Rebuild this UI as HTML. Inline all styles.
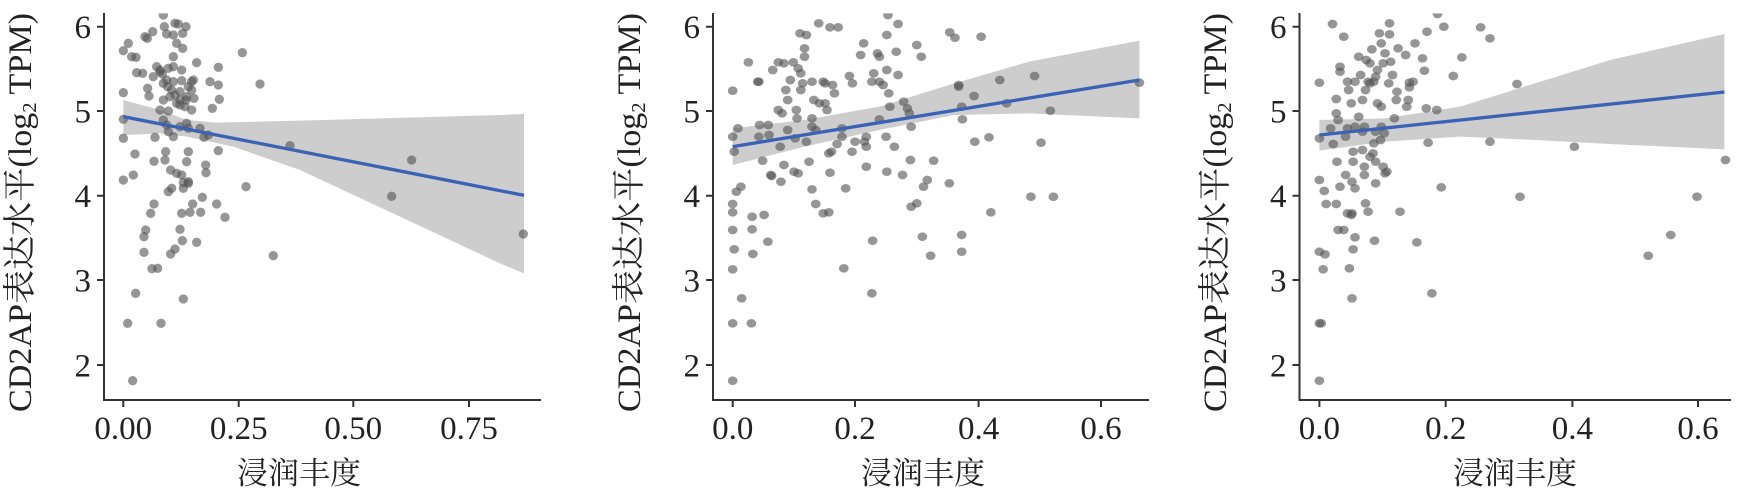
<!DOCTYPE html>
<html><head><meta charset="utf-8"><style>
html,body{margin:0;padding:0;background:#fff;}
svg{display:block;}
text{font-family:"Liberation Serif","Noto Serif CJK SC",serif;fill:#222;}
.pt{fill:#555;fill-opacity:0.62;}
.ax{stroke:#333;stroke-width:2;fill:none;}
.tk{font-size:33px;}
.yt{font-size:33px;}
.xt{font-size:31px;}
</style></head><body>
<svg width="1742" height="491" viewBox="0 0 1742 491" xmlns="http://www.w3.org/2000/svg">
<defs>
<clipPath id="c1"><rect x="312" y="40" width="1320" height="1155"/></clipPath>
<clipPath id="c2"><rect x="355" y="40" width="1170" height="1155"/></clipPath>
<clipPath id="c3"><rect x="372" y="40" width="1155" height="1155"/></clipPath>
</defs>

<!-- Panel 1 plot -->
<g transform="scale(0.33333)">
<g clip-path="url(#c1)">
<polygon fill="#c4c4c6" fill-opacity="0.85" points="370,300 480,330 560,360 650,368 900,362 1500,345 1572,342 1572,820 1500,790 1200,650 900,510 700,440 560,410 480,400 370,405"/>
<g class="pt">
<circle cx="490" cy="45" r="14"/><circle cx="493" cy="80" r="14"/><circle cx="525" cy="70" r="14"/><circle cx="535" cy="72" r="14"/><circle cx="558" cy="80" r="14"/><circle cx="548" cy="100" r="14"/><circle cx="500" cy="102" r="14"/><circle cx="520" cy="105" r="14"/><circle cx="530" cy="130" r="14"/><circle cx="548" cy="145" r="14"/><circle cx="458" cy="95" r="14"/><circle cx="435" cy="110" r="14"/><circle cx="442" cy="115" r="14"/><circle cx="385" cy="130" r="14"/><circle cx="370" cy="152" r="14"/><circle cx="395" cy="170" r="14"/><circle cx="408" cy="172" r="14"/><circle cx="520" cy="170" r="14"/><circle cx="590" cy="188" r="14"/><circle cx="655" cy="202" r="14"/><circle cx="727" cy="158" r="14"/><circle cx="780" cy="252" r="14"/><circle cx="410" cy="218" r="14"/><circle cx="428" cy="220" r="14"/><circle cx="460" cy="230" r="14"/><circle cx="480" cy="215" r="14"/><circle cx="487" cy="222" r="14"/><circle cx="500" cy="240" r="14"/><circle cx="520" cy="245" r="14"/><circle cx="545" cy="242" r="14"/><circle cx="575" cy="245" r="14"/><circle cx="580" cy="240" r="14"/><circle cx="630" cy="245" r="14"/><circle cx="655" cy="255" r="14"/><circle cx="370" cy="278" r="14"/><circle cx="443" cy="265" r="14"/><circle cx="447" cy="288" r="14"/><circle cx="490" cy="250" r="14"/><circle cx="503" cy="260" r="14"/><circle cx="515" cy="270" r="14"/><circle cx="540" cy="275" r="14"/><circle cx="560" cy="290" r="14"/><circle cx="582" cy="295" r="14"/><circle cx="637" cy="325" r="14"/><circle cx="658" cy="298" r="14"/><circle cx="480" cy="330" r="14"/><circle cx="505" cy="333" r="14"/><circle cx="530" cy="310" r="14"/><circle cx="540" cy="315" r="14"/><circle cx="555" cy="320" r="14"/><circle cx="575" cy="330" r="14"/><circle cx="370" cy="358" r="14"/><circle cx="370" cy="415" r="14"/><circle cx="465" cy="412" r="14"/><circle cx="490" cy="360" r="14"/><circle cx="500" cy="375" r="14"/><circle cx="505" cy="395" r="14"/><circle cx="520" cy="410" r="14"/><circle cx="540" cy="380" r="14"/><circle cx="560" cy="370" r="14"/><circle cx="565" cy="385" r="14"/><circle cx="600" cy="385" r="14"/><circle cx="612" cy="412" r="14"/><circle cx="625" cy="405" r="14"/><circle cx="655" cy="452" r="14"/><circle cx="870" cy="437" r="14"/><circle cx="1235" cy="480" r="14"/><circle cx="405" cy="462" r="14"/><circle cx="462" cy="484" r="14"/><circle cx="495" cy="480" r="14"/><circle cx="497" cy="455" r="14"/><circle cx="512" cy="510" r="14"/><circle cx="530" cy="520" r="14"/><circle cx="545" cy="525" r="14"/><circle cx="550" cy="548" r="14"/><circle cx="565" cy="545" r="14"/><circle cx="560" cy="485" r="14"/><circle cx="565" cy="455" r="14"/><circle cx="617" cy="495" r="14"/><circle cx="618" cy="518" r="14"/><circle cx="370" cy="540" r="14"/><circle cx="400" cy="525" r="14"/><circle cx="505" cy="575" r="14"/><circle cx="515" cy="565" r="14"/><circle cx="550" cy="565" r="14"/><circle cx="565" cy="550" r="14"/><circle cx="738" cy="560" r="14"/><circle cx="462" cy="612" r="14"/><circle cx="452" cy="640" r="14"/><circle cx="545" cy="640" r="14"/><circle cx="578" cy="612" r="14"/><circle cx="607" cy="592" r="14"/><circle cx="602" cy="637" r="14"/><circle cx="650" cy="612" r="14"/><circle cx="675" cy="652" r="14"/><circle cx="570" cy="637" r="14"/><circle cx="1175" cy="589" r="14"/><circle cx="437" cy="690" r="14"/><circle cx="432" cy="710" r="14"/><circle cx="540" cy="688" r="14"/><circle cx="547" cy="722" r="14"/><circle cx="590" cy="727" r="14"/><circle cx="432" cy="757" r="14"/><circle cx="512" cy="762" r="14"/><circle cx="525" cy="747" r="14"/><circle cx="456" cy="806" r="14"/><circle cx="473" cy="805" r="14"/><circle cx="820" cy="767" r="14"/><circle cx="407" cy="880" r="14"/><circle cx="550" cy="897" r="14"/><circle cx="383" cy="970" r="14"/><circle cx="483" cy="970" r="14"/><circle cx="398" cy="1142" r="14"/><circle cx="490" cy="300" r="14"/><circle cx="510" cy="290" r="14"/><circle cx="525" cy="285" r="14"/><circle cx="540" cy="300" r="14"/><circle cx="558" cy="300" r="14"/><circle cx="505" cy="205" r="14"/><circle cx="470" cy="200" r="14"/><circle cx="480" cy="210" r="14"/><circle cx="545" cy="210" r="14"/><circle cx="520" cy="200" r="14"/><circle cx="565" cy="260" r="14"/><circle cx="575" cy="270" r="14"/><circle cx="1570" cy="702" r="14"/>
</g>
<line x1="370" y1="350" x2="1572" y2="586" stroke="#3a63b5" stroke-width="10"/>
</g>
</g>

<!-- Panel 2 plot -->
<g transform="translate(580,0) scale(0.3742,0.33333)">
<g clip-path="url(#c2)">
<polygon fill="#c4c4c6" fill-opacity="0.85" points="408,385 600,360 800,320 1000,250 1200,185 1495,122 1495,355 1200,340 1000,345 800,390 600,440 408,495"/>
<g class="pt">
<circle cx="408" cy="272" r="13"/><circle cx="408" cy="410" r="13"/><circle cx="412" cy="455" r="13"/><circle cx="422" cy="385" r="13"/><circle cx="408" cy="612" r="13"/><circle cx="408" cy="637" r="13"/><circle cx="408" cy="690" r="13"/><circle cx="412" cy="748" r="13"/><circle cx="408" cy="808" r="13"/><circle cx="432" cy="895" r="13"/><circle cx="408" cy="970" r="13"/><circle cx="408" cy="1142" r="13"/><circle cx="418" cy="575" r="13"/><circle cx="430" cy="560" r="13"/><circle cx="460" cy="650" r="13"/><circle cx="460" cy="688" r="13"/><circle cx="462" cy="762" r="13"/><circle cx="458" cy="970" r="13"/><circle cx="492" cy="645" r="13"/><circle cx="502" cy="725" r="13"/><circle cx="488" cy="482" r="13"/><circle cx="480" cy="375" r="13"/><circle cx="478" cy="410" r="13"/><circle cx="503" cy="375" r="13"/><circle cx="505" cy="405" r="13"/><circle cx="475" cy="245" r="13"/><circle cx="478" cy="245" r="13"/><circle cx="450" cy="187" r="13"/><circle cx="515" cy="210" r="13"/><circle cx="530" cy="187" r="13"/><circle cx="545" cy="190" r="13"/><circle cx="510" cy="525" r="13"/><circle cx="512" cy="528" r="13"/><circle cx="537" cy="545" r="13"/><circle cx="545" cy="495" r="13"/><circle cx="535" cy="440" r="13"/><circle cx="530" cy="330" r="13"/><circle cx="540" cy="340" r="13"/><circle cx="555" cy="390" r="13"/><circle cx="550" cy="270" r="13"/><circle cx="555" cy="300" r="13"/><circle cx="562" cy="240" r="13"/><circle cx="570" cy="187" r="13"/><circle cx="583" cy="205" r="13"/><circle cx="590" cy="220" r="13"/><circle cx="588" cy="100" r="13"/><circle cx="605" cy="105" r="13"/><circle cx="600" cy="145" r="13"/><circle cx="600" cy="170" r="13"/><circle cx="595" cy="250" r="13"/><circle cx="590" cy="270" r="13"/><circle cx="578" cy="330" r="13"/><circle cx="580" cy="355" r="13"/><circle cx="575" cy="415" r="13"/><circle cx="572" cy="515" r="13"/><circle cx="583" cy="520" r="13"/><circle cx="605" cy="425" r="13"/><circle cx="612" cy="485" r="13"/><circle cx="620" cy="355" r="13"/><circle cx="620" cy="380" r="13"/><circle cx="630" cy="390" r="13"/><circle cx="625" cy="300" r="13"/><circle cx="640" cy="310" r="13"/><circle cx="655" cy="310" r="13"/><circle cx="660" cy="330" r="13"/><circle cx="620" cy="245" r="13"/><circle cx="650" cy="245" r="13"/><circle cx="620" cy="568" r="13"/><circle cx="630" cy="612" r="13"/><circle cx="650" cy="640" r="13"/><circle cx="665" cy="637" r="13"/><circle cx="638" cy="70" r="13"/><circle cx="668" cy="82" r="13"/><circle cx="690" cy="82" r="13"/><circle cx="655" cy="250" r="13"/><circle cx="675" cy="255" r="13"/><circle cx="680" cy="280" r="13"/><circle cx="668" cy="518" r="13"/><circle cx="665" cy="460" r="13"/><circle cx="672" cy="455" r="13"/><circle cx="687" cy="432" r="13"/><circle cx="700" cy="410" r="13"/><circle cx="710" cy="565" r="13"/><circle cx="700" cy="385" r="13"/><circle cx="720" cy="228" r="13"/><circle cx="728" cy="250" r="13"/><circle cx="727" cy="455" r="13"/><circle cx="735" cy="425" r="13"/><circle cx="705" cy="805" r="13"/><circle cx="750" cy="165" r="13"/><circle cx="758" cy="130" r="13"/><circle cx="765" cy="410" r="13"/><circle cx="760" cy="425" r="13"/><circle cx="765" cy="440" r="13"/><circle cx="765" cy="500" r="13"/><circle cx="780" cy="245" r="13"/><circle cx="785" cy="220" r="13"/><circle cx="795" cy="160" r="13"/><circle cx="800" cy="170" r="13"/><circle cx="800" cy="245" r="13"/><circle cx="810" cy="255" r="13"/><circle cx="820" cy="105" r="13"/><circle cx="820" cy="210" r="13"/><circle cx="825" cy="280" r="13"/><circle cx="828" cy="320" r="13"/><circle cx="800" cy="358" r="13"/><circle cx="818" cy="410" r="13"/><circle cx="820" cy="515" r="13"/><circle cx="823" cy="45" r="13"/><circle cx="840" cy="440" r="13"/><circle cx="845" cy="155" r="13"/><circle cx="850" cy="72" r="13"/><circle cx="850" cy="225" r="13"/><circle cx="865" cy="305" r="13"/><circle cx="875" cy="325" r="13"/><circle cx="880" cy="340" r="13"/><circle cx="885" cy="380" r="13"/><circle cx="883" cy="480" r="13"/><circle cx="862" cy="525" r="13"/><circle cx="900" cy="135" r="13"/><circle cx="912" cy="170" r="13"/><circle cx="918" cy="560" r="13"/><circle cx="928" cy="540" r="13"/><circle cx="885" cy="620" r="13"/><circle cx="900" cy="610" r="13"/><circle cx="915" cy="710" r="13"/><circle cx="937" cy="767" r="13"/><circle cx="945" cy="482" r="13"/><circle cx="782" cy="722" r="13"/><circle cx="780" cy="880" r="13"/><circle cx="988" cy="97" r="13"/><circle cx="1002" cy="113" r="13"/><circle cx="1012" cy="255" r="13"/><circle cx="1012" cy="260" r="13"/><circle cx="1020" cy="320" r="13"/><circle cx="1022" cy="358" r="13"/><circle cx="1020" cy="705" r="13"/><circle cx="1020" cy="755" r="13"/><circle cx="987" cy="550" r="13"/><circle cx="1053" cy="288" r="13"/><circle cx="1055" cy="425" r="13"/><circle cx="1072" cy="110" r="13"/><circle cx="1093" cy="412" r="13"/><circle cx="1098" cy="637" r="13"/><circle cx="1122" cy="240" r="13"/><circle cx="1140" cy="310" r="13"/><circle cx="1205" cy="590" r="13"/><circle cx="1215" cy="228" r="13"/><circle cx="1232" cy="428" r="13"/><circle cx="1257" cy="332" r="13"/><circle cx="1265" cy="590" r="13"/><circle cx="1495" cy="248" r="13"/>
</g>
<line x1="408" y1="440" x2="1495" y2="240" stroke="#3a63b5" stroke-width="10"/>
</g>
</g>

<!-- Panel 3 plot -->
<g transform="translate(1160,0) scale(0.375,0.33333)">
<g clip-path="url(#c3)">
<polygon fill="#c4c4c6" fill-opacity="0.85" points="425,360 600,355 800,320 1000,250 1200,180 1505,102 1505,448 1200,432 1000,420 800,410 600,425 425,452"/>
<g class="pt">
<circle cx="425" cy="248" r="13"/><circle cx="425" cy="415" r="13"/><circle cx="425" cy="540" r="13"/><circle cx="425" cy="755" r="13"/><circle cx="425" cy="970" r="13"/><circle cx="430" cy="970" r="13"/><circle cx="425" cy="1142" r="13"/><circle cx="440" cy="763" r="13"/><circle cx="435" cy="808" r="13"/><circle cx="438" cy="573" r="13"/><circle cx="443" cy="612" r="13"/><circle cx="460" cy="72" r="13"/><circle cx="490" cy="110" r="13"/><circle cx="480" cy="200" r="13"/><circle cx="480" cy="215" r="13"/><circle cx="470" cy="297" r="13"/><circle cx="470" cy="340" r="13"/><circle cx="475" cy="360" r="13"/><circle cx="462" cy="432" r="13"/><circle cx="455" cy="385" r="13"/><circle cx="472" cy="485" r="13"/><circle cx="470" cy="612" r="13"/><circle cx="480" cy="560" r="13"/><circle cx="475" cy="690" r="13"/><circle cx="490" cy="690" r="13"/><circle cx="495" cy="525" r="13"/><circle cx="495" cy="410" r="13"/><circle cx="500" cy="385" r="13"/><circle cx="500" cy="245" r="13"/><circle cx="503" cy="270" r="13"/><circle cx="500" cy="640" r="13"/><circle cx="505" cy="805" r="13"/><circle cx="512" cy="640" r="13"/><circle cx="510" cy="645" r="13"/><circle cx="512" cy="545" r="13"/><circle cx="515" cy="455" r="13"/><circle cx="515" cy="485" r="13"/><circle cx="520" cy="565" r="13"/><circle cx="515" cy="748" r="13"/><circle cx="520" cy="712" r="13"/><circle cx="512" cy="895" r="13"/><circle cx="510" cy="310" r="13"/><circle cx="520" cy="245" r="13"/><circle cx="530" cy="350" r="13"/><circle cx="535" cy="225" r="13"/><circle cx="540" cy="300" r="13"/><circle cx="540" cy="395" r="13"/><circle cx="540" cy="450" r="13"/><circle cx="545" cy="500" r="13"/><circle cx="545" cy="525" r="13"/><circle cx="548" cy="610" r="13"/><circle cx="555" cy="635" r="13"/><circle cx="548" cy="270" r="13"/><circle cx="555" cy="245" r="13"/><circle cx="560" cy="250" r="13"/><circle cx="570" cy="245" r="13"/><circle cx="575" cy="230" r="13"/><circle cx="580" cy="310" r="13"/><circle cx="575" cy="485" r="13"/><circle cx="575" cy="550" r="13"/><circle cx="575" cy="395" r="13"/><circle cx="570" cy="430" r="13"/><circle cx="568" cy="460" r="13"/><circle cx="572" cy="722" r="13"/><circle cx="565" cy="148" r="13"/><circle cx="580" cy="210" r="13"/><circle cx="585" cy="100" r="13"/><circle cx="590" cy="130" r="13"/><circle cx="595" cy="190" r="13"/><circle cx="600" cy="160" r="13"/><circle cx="590" cy="320" r="13"/><circle cx="590" cy="380" r="13"/><circle cx="598" cy="400" r="13"/><circle cx="605" cy="515" r="13"/><circle cx="612" cy="70" r="13"/><circle cx="612" cy="103" r="13"/><circle cx="615" cy="185" r="13"/><circle cx="620" cy="225" r="13"/><circle cx="625" cy="355" r="13"/><circle cx="630" cy="300" r="13"/><circle cx="635" cy="145" r="13"/><circle cx="632" cy="275" r="13"/><circle cx="640" cy="635" r="13"/><circle cx="655" cy="165" r="13"/><circle cx="658" cy="320" r="13"/><circle cx="662" cy="300" r="13"/><circle cx="665" cy="262" r="13"/><circle cx="665" cy="248" r="13"/><circle cx="675" cy="245" r="13"/><circle cx="680" cy="130" r="13"/><circle cx="685" cy="727" r="13"/><circle cx="700" cy="175" r="13"/><circle cx="705" cy="212" r="13"/><circle cx="710" cy="325" r="13"/><circle cx="712" cy="95" r="13"/><circle cx="715" cy="428" r="13"/><circle cx="725" cy="880" r="13"/><circle cx="738" cy="330" r="13"/><circle cx="740" cy="42" r="13"/><circle cx="750" cy="562" r="13"/><circle cx="757" cy="80" r="13"/><circle cx="782" cy="228" r="13"/><circle cx="805" cy="172" r="13"/><circle cx="855" cy="82" r="13"/><circle cx="880" cy="115" r="13"/><circle cx="880" cy="425" r="13"/><circle cx="952" cy="252" r="13"/><circle cx="960" cy="590" r="13"/><circle cx="1105" cy="440" r="13"/><circle cx="1302" cy="767" r="13"/><circle cx="1362" cy="705" r="13"/><circle cx="1432" cy="590" r="13"/><circle cx="1508" cy="480" r="13"/><circle cx="530" cy="170" r="13"/><circle cx="560" cy="190" r="13"/><circle cx="550" cy="180" r="13"/><circle cx="610" cy="250" r="13"/><circle cx="595" cy="500" r="13"/><circle cx="600" cy="520" r="13"/><circle cx="588" cy="420" r="13"/><circle cx="560" cy="470" r="13"/><circle cx="545" cy="380" r="13"/><circle cx="520" cy="380" r="13"/>
</g>
<line x1="425" y1="405" x2="1505" y2="276" stroke="#3a63b5" stroke-width="10"/>
</g>
</g>

<!-- Panel 1 -->
<path class="ax" d="M104,13 V400 H541"/>
<path class="ax" d="M104,26.7 h-7 M104,111 h-7 M104,195.7 h-7 M104,280 h-7 M104,365 h-7 M123.3,400 v7 M238.7,400 v7 M353.3,400 v7 M469,400 v7"/>
<g class="tk" text-anchor="end"><text x="91" y="38">6</text><text x="91" y="122.5">5</text><text x="91" y="207">4</text><text x="91" y="291.5">3</text><text x="91" y="376.5">2</text></g>
<g class="tk" text-anchor="middle"><text x="123.3" y="439">0.00</text><text x="238.7" y="439">0.25</text><text x="353.3" y="439">0.50</text><text x="469" y="439">0.75</text></g>
<text class="xt" x="299" y="484" text-anchor="middle">浸润丰度</text>
<text class="yt" transform="translate(31,212.5) rotate(-90)" text-anchor="middle" textLength="399" lengthAdjust="spacingAndGlyphs">CD2AP表达水平(log<tspan font-size="20" dy="5">2</tspan><tspan dy="-5"> TPM)</tspan></text>

<!-- Panel 2 -->
<path class="ax" d="M713,13 V400 H1149"/>
<path class="ax" d="M713,26.7 h-7 M713,111 h-7 M713,195.7 h-7 M713,280 h-7 M713,365 h-7 M732.7,400 v7 M855,400 v7 M978.6,400 v7 M1101,400 v7"/>
<g class="tk" text-anchor="end"><text x="700" y="38">6</text><text x="700" y="122.5">5</text><text x="700" y="207">4</text><text x="700" y="291.5">3</text><text x="700" y="376.5">2</text></g>
<g class="tk" text-anchor="middle"><text x="732.7" y="439">0.0</text><text x="855" y="439">0.2</text><text x="978.6" y="439">0.4</text><text x="1101" y="439">0.6</text></g>
<text class="xt" x="923" y="484" text-anchor="middle">浸润丰度</text>
<text class="yt" transform="translate(640,212.5) rotate(-90)" text-anchor="middle" textLength="399" lengthAdjust="spacingAndGlyphs">CD2AP表达水平(log<tspan font-size="20" dy="5">2</tspan><tspan dy="-5"> TPM)</tspan></text>

<!-- Panel 3 -->
<path class="ax" d="M1299.5,13 V400 H1731"/>
<path class="ax" d="M1299.5,26.7 h-7 M1299.5,111 h-7 M1299.5,195.7 h-7 M1299.5,280 h-7 M1299.5,365 h-7 M1319.4,400 v7 M1445.7,400 v7 M1572.4,400 v7 M1698,400 v7"/>
<g class="tk" text-anchor="end"><text x="1286.5" y="38">6</text><text x="1286.5" y="122.5">5</text><text x="1286.5" y="207">4</text><text x="1286.5" y="291.5">3</text><text x="1286.5" y="376.5">2</text></g>
<g class="tk" text-anchor="middle"><text x="1319.4" y="439">0.0</text><text x="1445.7" y="439">0.2</text><text x="1572.4" y="439">0.4</text><text x="1698" y="439">0.6</text></g>
<text class="xt" x="1515" y="484" text-anchor="middle">浸润丰度</text>
<text class="yt" transform="translate(1226,212.5) rotate(-90)" text-anchor="middle" textLength="399" lengthAdjust="spacingAndGlyphs">CD2AP表达水平(log<tspan font-size="20" dy="5">2</tspan><tspan dy="-5"> TPM)</tspan></text>
</svg>
</body></html>
